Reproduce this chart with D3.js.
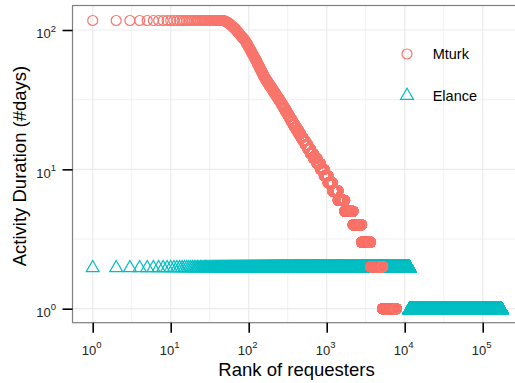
<!DOCTYPE html>
<html>
<head>
<meta charset="utf-8">
<script src="https://cdn.jsdelivr.net/npm/d3@7"></script>
<style>
  body { margin: 0; background: #fff; }
  #chart { position: relative; width: 515px; height: 383px; overflow: hidden; }
  #chart svg, #chart canvas { position: absolute; left: 0; top: 0; }
  text { font-family: "Liberation Sans", Arial, Helvetica, sans-serif; }
</style>
</head>
<body>
<div id="chart"></div>
<script>
const width = 515;
const height = 383;
const panel = { left: 72.5, top: 5.5, right: 520, bottom: 322.7 };

const seriesNames = ["Mturk", "Elance"];
const seriesColors = ["#F8766D", "#00BFC4"];

// Mturk: activity duration (days) and the last rank that has it
const mturkDays = [117, 116, 115, 114, 113, 112, 111, 110, 109, 108, 107, 106, 105, 104, 103, 102, 101, 100,
  99, 98, 97, 96, 95, 94, 93, 92, 91, 90, 89, 88, 87, 86, 85, 84, 83, 82, 81, 80, 79, 78, 77, 76, 75, 74, 73,
  72, 71, 70, 69, 68, 67, 66, 65, 64, 63, 62, 61, 60, 59, 58, 57, 56, 55, 54, 53, 52, 51, 50, 49, 48, 47, 46,
  45, 44, 43, 42, 41, 40, 39, 38, 37, 36, 35, 34, 33, 32, 31, 30, 29, 28, 27, 26, 25, 24, 23, 22, 21, 20, 19,
  18, 17, 16, 15, 14, 13, 12, 11, 10, 9, 8, 7, 6, 5, 4, 3, 2, 1];
const mturkLastRank = [48, 50, 51, 53, 54, 55, 57, 58, 59, 60, 61, 62, 63, 65, 66, 67, 68, 69,
  70, 71, 72, 74, 75, 76, 77, 78, 80, 81, 82, 84, 86, 87, 89, 90, 91, 92, 93, 95, 96, 97, 98, 100, 101, 102, 104,
  105, 107, 108, 110, 111, 113, 115, 116, 118, 120, 122, 124, 126, 128, 129, 131, 134, 136, 138, 141, 143, 146, 148, 151, 154, 157, 160,
  164, 169, 173, 178, 183, 189, 195, 201, 207, 214, 221, 229, 237, 246, 256, 265, 275, 285, 297, 309, 322, 337, 353, 370, 389, 412, 436,
  464, 495, 531, 572, 618, 673, 750, 830, 930, 1040, 1190, 1400, 1700, 2180, 2800, 3650, 5200, 7800];

// Elance
const elanceDays = [2, 1];
const elanceLastRank = [11500, 175000];

const xTicks = [1, 10, 100, 1000, 10000, 100000];
const xTickExp = ["0", "1", "2", "3", "4", "5"];
const yTicks = [1, 10, 100];
const yTickExp = ["0", "1", "2"];

function expand(days, lastRank) {
  const pts = [];
  let rank = 1;
  days.forEach((d, i) => {
    for (; rank <= lastRank[i]; rank++) pts.push({ rank: rank, days: d });
  });
  return pts;
}

const x = d3.scaleLog().domain([1, 1e5]).range([92.7, 482.7]);
const y = d3.scaleLog().domain([1, 100]).range([308.7, 30]);

// R style open triangle (pch 2)
const triangleR = {
  draw(context, size) {
    const r = Math.sqrt(size);
    context.moveTo(0, -0.97 * r);
    context.lineTo(r, 0.75 * r);
    context.lineTo(-r, 0.75 * r);
    context.closePath();
  }
};
const shapes = [d3.symbolCircle, triangleR];
const shapeSizes = [78.5, 42];

const chart = d3.select("#chart");
const svg = chart.append("svg").attr("width", width).attr("height", height);

svg.append("rect").attr("width", width).attr("height", height).attr("fill", "#fff");

const grid = svg.append("g");
const half = Math.sqrt(10);
const xMinor = [0.1].concat(xTicks).map((t) => t * half);
const yMinor = [0.1].concat(yTicks).map((t) => t * half);

grid.selectAll("line.xminor").data(xMinor.filter((v) => x(v) > panel.left && x(v) < panel.right))
  .join("line")
  .attr("x1", (d) => x(d)).attr("x2", (d) => x(d))
  .attr("y1", panel.top).attr("y2", panel.bottom)
  .attr("stroke", "#EBEBEB").attr("stroke-width", 0.7);
grid.selectAll("line.yminor").data(yMinor.filter((v) => y(v) > panel.top && y(v) < panel.bottom))
  .join("line")
  .attr("y1", (d) => y(d)).attr("y2", (d) => y(d))
  .attr("x1", panel.left).attr("x2", panel.right)
  .attr("stroke", "#EBEBEB").attr("stroke-width", 0.7);
grid.selectAll("line.xmajor").data(xTicks)
  .join("line")
  .attr("x1", (d) => x(d)).attr("x2", (d) => x(d))
  .attr("y1", panel.top).attr("y2", panel.bottom)
  .attr("stroke", "#EBEBEB").attr("stroke-width", 1.2);
grid.selectAll("line.ymajor").data(yTicks)
  .join("line")
  .attr("y1", (d) => y(d)).attr("y2", (d) => y(d))
  .attr("x1", panel.left).attr("x2", panel.right)
  .attr("stroke", "#EBEBEB").attr("stroke-width", 1.2);

// panel border
svg.append("rect")
  .attr("x", panel.left).attr("y", panel.top)
  .attr("width", panel.right - panel.left).attr("height", panel.bottom - panel.top)
  .attr("fill", "none").attr("stroke", "#7F7F7F").attr("stroke-width", 1.2);

// axes
svg.append("g")
  .attr("transform", `translate(0,${panel.bottom})`)
  .call(d3.axisBottom(x).tickValues(xTicks).tickSize(10).tickFormat(""));
svg.append("g")
  .attr("transform", `translate(${panel.left},0)`)
  .call(d3.axisLeft(y).tickValues(yTicks).tickSize(10).tickFormat(""));
svg.selectAll(".domain").remove();
svg.selectAll(".tick line").attr("stroke", "#000").attr("stroke-width", 1.6);

const xLab = svg.append("g").selectAll("text").data(xTicks).join("text")
  .attr("x", (d) => x(d) - 1).attr("y", 355)
  .attr("text-anchor", "middle").attr("fill", "#222").attr("font-size", 13);
xLab.append("tspan").text("10");
xLab.append("tspan").attr("dy", -6.6).attr("font-size", 9.5).text((d, i) => xTickExp[i]);

const yLab = svg.append("g").selectAll("text").data(yTicks).join("text")
  .attr("x", 56).attr("y", (d) => y(d) + 8.3)
  .attr("text-anchor", "end").attr("fill", "#222").attr("font-size", 13);
yLab.append("tspan").text("10");
yLab.append("tspan").attr("dy", -6.6).attr("font-size", 9.5).text((d, i) => yTickExp[i]);

svg.append("text")
  .attr("x", 296.5).attr("y", 376)
  .attr("text-anchor", "middle").attr("font-size", 18.5).attr("fill", "#000")
  .text("Rank of requesters");
svg.append("text")
  .attr("transform", "translate(25.5,166) rotate(-90)")
  .attr("text-anchor", "middle").attr("font-size", 18.5).attr("fill", "#000")
  .text("Activity Duration (#days)");

// legend
const legend = svg.append("g").selectAll("g").data(seriesNames).join("g")
  .attr("transform", (d, i) => `translate(407,${54 + i * 40.5})`);
legend.append("path")
  .attr("d", (d, i) => d3.symbol().type(shapes[i]).size(shapeSizes[i])())
  .attr("fill", "none")
  .attr("stroke", (d, i) => seriesColors[i])
  .attr("stroke-width", 1.2);
legend.append("text")
  .attr("x", 25.7).attr("y", (d, i) => (i === 0 ? 5.3 : 6))
  .attr("font-size", 14.5).attr("fill", "#000")
  .text((d) => d);

// points on a canvas above the grid
const canvas = chart.append("canvas").attr("width", width).attr("height", height).node();
const ctx = canvas.getContext("2d");
ctx.beginPath();
ctx.rect(panel.left, panel.top, panel.right - panel.left, panel.bottom - panel.top);
ctx.clip();

function drawSeries(points, i) {
  const sym = d3.symbol().type(shapes[i]).size(shapeSizes[i]).context(ctx);
  ctx.strokeStyle = seriesColors[i];
  ctx.lineWidth = 1.2;
  points.forEach((p) => {
    const px = x(p.rank);
    const py = y(p.days);
    ctx.translate(px, py);
    ctx.beginPath();
    sym();
    ctx.stroke();
    ctx.translate(-px, -py);
  });
}

drawSeries(expand(elanceDays, elanceLastRank), 1);
drawSeries(expand(mturkDays, mturkLastRank), 0);
</script>
</body>
</html>
